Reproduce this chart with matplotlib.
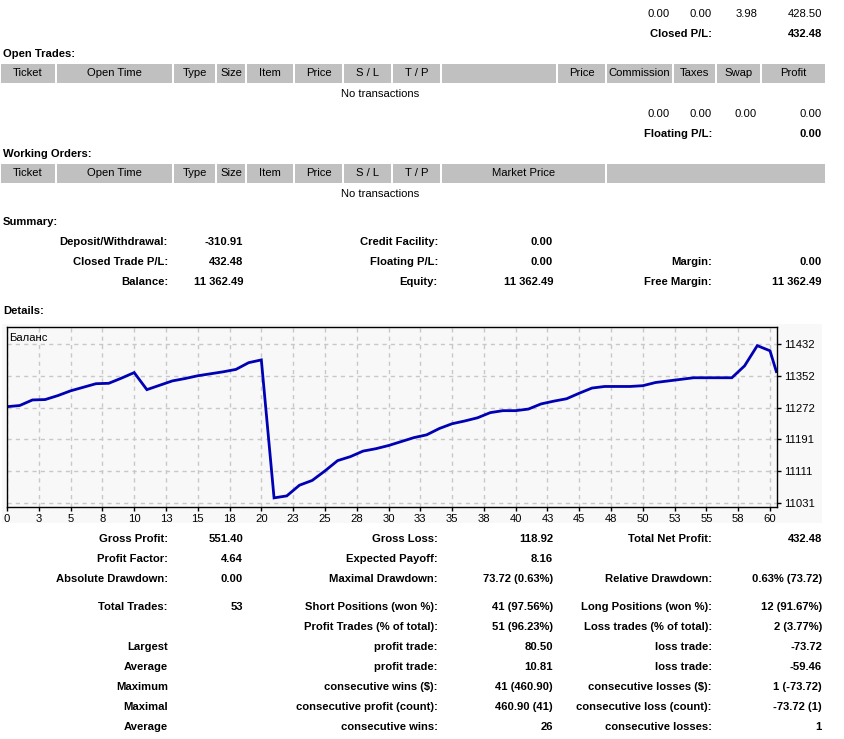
import matplotlib
matplotlib.use("Agg")
import matplotlib.pyplot as plt
from matplotlib.patches import Rectangle

# ------------------------------------------------------------------ #
# Data
# ------------------------------------------------------------------ #
trade_idx = list(range(0, 61)) + [60.5]
balance = [11274, 11277, 11291, 11292, 11302, 11314, 11323, 11332, 11333, 11346,
           11360, 11317, 11328, 11339, 11345, 11352, 11357, 11362, 11368, 11385,
           11392, 11044, 11049, 11076, 11088, 11112, 11138, 11148, 11162, 11168,
           11176, 11186, 11196, 11203, 11219, 11231, 11238, 11246, 11259, 11264,
           11264, 11268, 11281, 11288, 11294, 11308, 11321, 11325, 11325, 11325,
           11327, 11335, 11339, 11343, 11347, 11347, 11347, 11347, 11377, 11428,
           11415, 11362.49]

x_ticks = [i * 2.5 for i in range(25)]
x_labels = ["0", "3", "5", "8", "10", "13", "15", "18", "20", "23", "25", "28", "30",
            "33", "35", "38", "40", "43", "45", "48", "50", "53", "55", "58", "60"]
y_ticks = [11031, 11111.2, 11191.4, 11271.6, 11351.8, 11432]
y_labels = ["11031", "11111", "11191", "11272", "11352", "11432"]

open_cols = [("Ticket", 0, 56), ("Open Time", 56, 173), ("Type", 173, 216), ("Size", 216, 246),
             ("Item", 246, 294), ("Price", 294, 343), ("S / L", 343, 392), ("T / P", 392, 441),
             ("", 441, 557), ("Price", 557, 606), ("Commission", 606, 673), ("Taxes", 673, 716),
             ("Swap", 716, 761), ("Profit", 761, 826)]
work_cols = open_cols[:8] + [("Market Price", 441, 606), ("", 606, 826)]

closed_row = ["0.00", "0.00", "3.98", "428.50"]
floating_row = ["0.00", "0.00", "0.00", "0.00"]

summary = [
    ("Deposit/Withdrawal:", "-310.91", "Credit Facility:", "0.00", "", ""),
    ("Closed Trade P/L:", "432.48", "Floating P/L:", "0.00", "Margin:", "0.00"),
    ("Balance:", "11 362.49", "Equity:", "11 362.49", "Free Margin:", "11 362.49"),
]

stats = [
    ("Gross Profit:", "551.40", "Gross Loss:", "118.92", "Total Net Profit:", "432.48"),
    ("Profit Factor:", "4.64", "Expected Payoff:", "8.16", "", ""),
    ("Absolute Drawdown:", "0.00", "Maximal Drawdown:", "73.72 (0.63%)", "Relative Drawdown:", "0.63% (73.72)"),
    ("Total Trades:", "53", "Short Positions (won %):", "41 (97.56%)", "Long Positions (won %):", "12 (91.67%)"),
    ("", "", "Profit Trades (% of total):", "51 (96.23%)", "Loss trades (% of total):", "2 (3.77%)"),
    ("Largest", "", "profit trade:", "80.50", "loss trade:", "-73.72"),
    ("Average", "", "profit trade:", "10.81", "loss trade:", "-59.46"),
    ("Maximum", "", "consecutive wins ($):", "41 (460.90)", "consecutive losses ($):", "1 (-73.72)"),
    ("Maximal", "", "consecutive profit (count):", "460.90 (41)", "consecutive loss (count):", "-73.72 (1)"),
    ("Average", "", "consecutive wins:", "26", "consecutive losses:", "1"),
]
stats_y = [539, 559, 579, 607, 627, 647, 667, 687, 707, 727]

# ------------------------------------------------------------------ #
# Page canvas in pixel coordinates
# ------------------------------------------------------------------ #
FONT = "Liberation Sans"
FS = 8.1
W, H = 844, 739
fig = plt.figure(figsize=(W / 100, H / 100), dpi=100)
page = fig.add_axes([0, 0, 1, 1])
page.set_xlim(0, W)
page.set_ylim(H, 0)
page.axis("off")


def txt(x, y, s, ha="right", bold=False):
    page.text(x, y, s, ha=ha, va="center", fontsize=FS, family=FONT,
              fontweight="bold" if bold else "normal", color="black")


def header(y0, y1, cols):
    for name, a, b in cols:
        page.add_patch(Rectangle((a + 1, y0), b - a - 2, y1 - y0, facecolor="#C0C0C0", edgecolor="none"))
        if name:
            txt((a + b) / 2, (y0 + y1) / 2, name, ha="center")


num_x = [670, 712, 757, 822]
for x, s in zip(num_x, closed_row):
    txt(x, 14, s)
txt(712, 34, "Closed P/L:", bold=True)
txt(822, 34, "432.48", bold=True)
txt(3, 54, "Open Trades:", ha="left", bold=True)
header(64, 83, open_cols)
txt(380, 94, "No transactions", ha="center")

for x, s in zip(num_x, floating_row):
    txt(x, 114, s)
txt(712, 134, "Floating P/L:", bold=True)
txt(822, 134, "0.00", bold=True)
txt(3, 154, "Working Orders:", ha="left", bold=True)
header(164, 183, work_cols)
txt(380, 194, "No transactions", ha="center")

txt(3, 222, "Summary:", ha="left", bold=True)
col_x = [168, 243, 438, 553, 712, 822]
for row, y in zip(summary, [242, 262, 282]):
    for x, s in zip(col_x, row):
        if s:
            txt(x, y, s, bold=True)

txt(3, 311, "Details:", ha="left", bold=True)
page.add_patch(Rectangle((2, 324), 820, 199, facecolor="#F8F8F8", edgecolor="none"))

for row, y in zip(stats, stats_y):
    for x, s in zip(col_x, row):
        if s:
            txt(x, y, s, bold=True)

# ------------------------------------------------------------------ #
# Balance chart
# ------------------------------------------------------------------ #
ax = fig.add_axes([7 / W, 1 - 507 / H, 770 / W, 180 / H])
ax.set_facecolor("#F8F8F8")
ax.plot(trade_idx, balance, color="#0000B4", lw=2, solid_joinstyle="miter")
ax.set_xlim(0, 60.55)
ax.set_ylim(11021, 11475)
ax.set_xticks(x_ticks)
ax.set_xticklabels(x_labels, fontsize=FS, family=FONT)
ax.set_yticks(y_ticks)
ax.set_yticklabels(y_labels, fontsize=FS, family=FONT)
ax.yaxis.tick_right()
ax.tick_params(axis="both", direction="out", length=3, width=1, pad=2, color="black")
ax.grid(True, color="#C8C8C8", linestyle=(0, (3, 3)), lw=1)
for sp in ax.spines.values():
    sp.set_color("black")
    sp.set_linewidth(1)
ax.text(0.003, 0.965, "Баланс", transform=ax.transAxes, ha="left", va="top",
        fontsize=FS, family=FONT)

plt.savefig("out.png", dpi=100)
